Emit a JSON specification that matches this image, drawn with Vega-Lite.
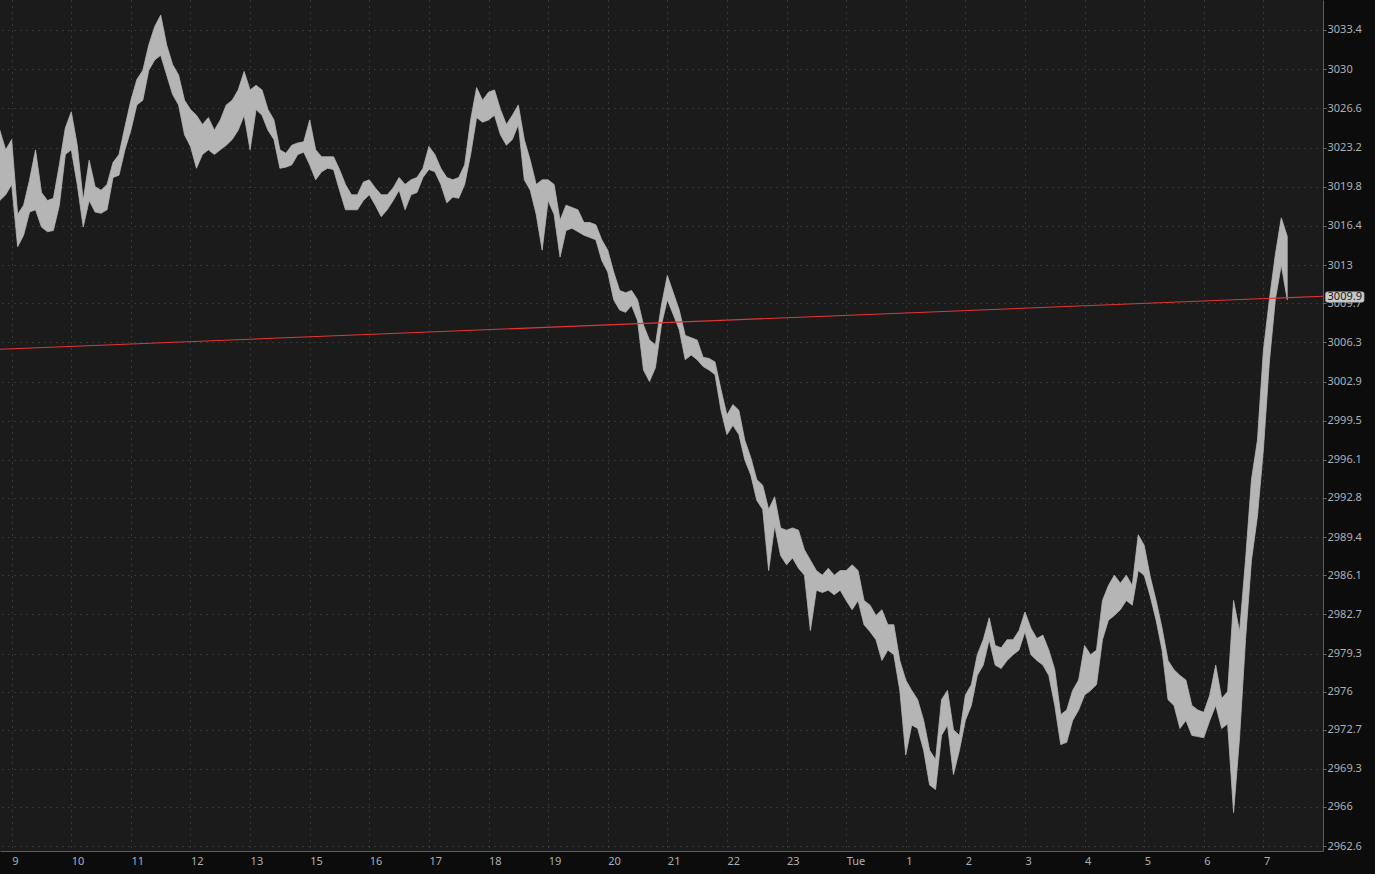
{
  "$schema": "https://vega.github.io/schema/vega-lite/v6.json",
  "description": "Intraday price chart, hourly axis, with trend line",
  "width": 1323,
  "height": 851,
  "autosize": {"type": "none"},
  "padding": {"left": 0, "top": 0, "right": 52, "bottom": 23},
  "background": "#0c0c0c",
  "datasets": {
    "bars": [
      {"t": -0.2, "hi": 3024.7, "lo": 3018.6},
      {"t": -0.1, "hi": 3023.0, "lo": 3019.1},
      {"t": 0.0, "hi": 3023.9, "lo": 3020.0},
      {"t": 0.1, "hi": 3017.4, "lo": 3014.6},
      {"t": 0.2, "hi": 3018.2, "lo": 3015.6},
      {"t": 0.3, "hi": 3020.4, "lo": 3017.6},
      {"t": 0.4, "hi": 3023.0, "lo": 3017.8},
      {"t": 0.5, "hi": 3019.3, "lo": 3016.3},
      {"t": 0.6, "hi": 3018.6, "lo": 3015.9},
      {"t": 0.7, "hi": 3018.8, "lo": 3016.0},
      {"t": 0.8, "hi": 3021.7, "lo": 3018.2},
      {"t": 0.9, "hi": 3024.9, "lo": 3022.6},
      {"t": 1.0, "hi": 3026.3, "lo": 3023.0},
      {"t": 1.1, "hi": 3023.4, "lo": 3020.0},
      {"t": 1.2, "hi": 3018.6, "lo": 3016.3},
      {"t": 1.3, "hi": 3022.1, "lo": 3018.6},
      {"t": 1.4, "hi": 3019.8, "lo": 3017.6},
      {"t": 1.5, "hi": 3019.5, "lo": 3017.5},
      {"t": 1.6, "hi": 3020.0, "lo": 3017.8},
      {"t": 1.7, "hi": 3021.9, "lo": 3020.6},
      {"t": 1.8, "hi": 3022.6, "lo": 3020.8},
      {"t": 1.9, "hi": 3025.0, "lo": 3023.0},
      {"t": 2.0, "hi": 3027.3, "lo": 3024.7},
      {"t": 2.1, "hi": 3029.1, "lo": 3026.9},
      {"t": 2.2, "hi": 3029.9, "lo": 3027.3},
      {"t": 2.3, "hi": 3032.1, "lo": 3029.9},
      {"t": 2.4, "hi": 3033.7, "lo": 3030.8},
      {"t": 2.5, "hi": 3034.7, "lo": 3031.2},
      {"t": 2.6, "hi": 3032.1, "lo": 3029.5},
      {"t": 2.7, "hi": 3030.4, "lo": 3027.8},
      {"t": 2.8, "hi": 3029.5, "lo": 3026.9},
      {"t": 2.9, "hi": 3027.3, "lo": 3024.3},
      {"t": 3.0, "hi": 3026.5, "lo": 3023.3},
      {"t": 3.1, "hi": 3026.0, "lo": 3021.4},
      {"t": 3.2, "hi": 3025.2, "lo": 3022.6},
      {"t": 3.3, "hi": 3025.8, "lo": 3023.0},
      {"t": 3.4, "hi": 3024.7, "lo": 3022.6},
      {"t": 3.5, "hi": 3025.6, "lo": 3023.0},
      {"t": 3.6, "hi": 3026.9, "lo": 3023.4},
      {"t": 3.7, "hi": 3027.3, "lo": 3023.9},
      {"t": 3.8, "hi": 3028.2, "lo": 3024.7},
      {"t": 3.9, "hi": 3029.8, "lo": 3026.0},
      {"t": 4.0, "hi": 3028.2, "lo": 3023.0},
      {"t": 4.1, "hi": 3028.6, "lo": 3026.5},
      {"t": 4.2, "hi": 3028.2, "lo": 3026.0},
      {"t": 4.3, "hi": 3026.5, "lo": 3024.7},
      {"t": 4.4, "hi": 3025.6, "lo": 3023.9},
      {"t": 4.5, "hi": 3023.0, "lo": 3021.4},
      {"t": 4.6, "hi": 3022.7, "lo": 3021.5},
      {"t": 4.7, "hi": 3023.4, "lo": 3021.7},
      {"t": 4.8, "hi": 3023.6, "lo": 3022.6},
      {"t": 4.9, "hi": 3023.7, "lo": 3022.8},
      {"t": 5.0, "hi": 3025.6, "lo": 3021.7},
      {"t": 5.1, "hi": 3023.0, "lo": 3020.4},
      {"t": 5.2, "hi": 3022.4, "lo": 3021.1},
      {"t": 5.3, "hi": 3022.4, "lo": 3021.4},
      {"t": 5.4, "hi": 3022.4, "lo": 3021.3},
      {"t": 5.5, "hi": 3021.3, "lo": 3019.5},
      {"t": 5.6, "hi": 3020.0, "lo": 3017.8},
      {"t": 5.7, "hi": 3019.1, "lo": 3017.8},
      {"t": 5.8, "hi": 3019.1, "lo": 3017.8},
      {"t": 5.9, "hi": 3020.2, "lo": 3018.6},
      {"t": 6.0, "hi": 3020.4, "lo": 3019.1},
      {"t": 6.1, "hi": 3019.7, "lo": 3018.2},
      {"t": 6.2, "hi": 3019.1, "lo": 3017.2},
      {"t": 6.3, "hi": 3019.1, "lo": 3017.8},
      {"t": 6.4, "hi": 3019.7, "lo": 3018.6},
      {"t": 6.5, "hi": 3020.6, "lo": 3019.5},
      {"t": 6.6, "hi": 3020.0, "lo": 3017.8},
      {"t": 6.7, "hi": 3020.4, "lo": 3019.1},
      {"t": 6.8, "hi": 3020.6, "lo": 3019.3},
      {"t": 6.9, "hi": 3021.4, "lo": 3020.6},
      {"t": 7.0, "hi": 3023.3, "lo": 3021.3},
      {"t": 7.1, "hi": 3022.6, "lo": 3021.1},
      {"t": 7.2, "hi": 3021.4, "lo": 3020.0},
      {"t": 7.3, "hi": 3020.6, "lo": 3018.4},
      {"t": 7.4, "hi": 3020.4, "lo": 3018.9},
      {"t": 7.5, "hi": 3020.6, "lo": 3018.8},
      {"t": 7.6, "hi": 3021.7, "lo": 3020.0},
      {"t": 7.7, "hi": 3025.6, "lo": 3022.6},
      {"t": 7.8, "hi": 3028.4, "lo": 3025.8},
      {"t": 7.9, "hi": 3027.3, "lo": 3025.4},
      {"t": 8.0, "hi": 3028.0, "lo": 3025.6},
      {"t": 8.1, "hi": 3028.2, "lo": 3026.0},
      {"t": 8.2, "hi": 3026.5, "lo": 3024.3},
      {"t": 8.3, "hi": 3025.2, "lo": 3023.4},
      {"t": 8.4, "hi": 3026.0, "lo": 3023.9},
      {"t": 8.5, "hi": 3026.9, "lo": 3025.2},
      {"t": 8.6, "hi": 3023.9, "lo": 3020.4},
      {"t": 8.7, "hi": 3022.1, "lo": 3019.5},
      {"t": 8.8, "hi": 3020.0, "lo": 3017.4},
      {"t": 8.9, "hi": 3020.4, "lo": 3014.3},
      {"t": 9.0, "hi": 3020.4, "lo": 3018.6},
      {"t": 9.1, "hi": 3020.0, "lo": 3017.4},
      {"t": 9.2, "hi": 3016.9, "lo": 3013.7},
      {"t": 9.3, "hi": 3018.2, "lo": 3016.0},
      {"t": 9.4, "hi": 3018.0, "lo": 3016.2},
      {"t": 9.5, "hi": 3017.8, "lo": 3015.9},
      {"t": 9.6, "hi": 3016.7, "lo": 3015.6},
      {"t": 9.7, "hi": 3016.7, "lo": 3015.4},
      {"t": 9.8, "hi": 3016.5, "lo": 3015.2},
      {"t": 9.9, "hi": 3015.2, "lo": 3013.4},
      {"t": 10.0, "hi": 3014.3, "lo": 3012.4},
      {"t": 10.1, "hi": 3012.4, "lo": 3010.0},
      {"t": 10.2, "hi": 3010.8, "lo": 3009.1},
      {"t": 10.3, "hi": 3010.6, "lo": 3008.9},
      {"t": 10.4, "hi": 3010.8, "lo": 3009.5},
      {"t": 10.5, "hi": 3010.0, "lo": 3008.2},
      {"t": 10.6, "hi": 3007.8, "lo": 3003.9},
      {"t": 10.7, "hi": 3006.5, "lo": 3002.9},
      {"t": 10.8, "hi": 3006.1, "lo": 3004.1},
      {"t": 10.9, "hi": 3009.5, "lo": 3007.8},
      {"t": 11.0, "hi": 3012.1, "lo": 3010.0},
      {"t": 11.1, "hi": 3010.6, "lo": 3008.7},
      {"t": 11.2, "hi": 3009.1, "lo": 3007.4},
      {"t": 11.3, "hi": 3006.9, "lo": 3004.8},
      {"t": 11.4, "hi": 3006.7, "lo": 3005.2},
      {"t": 11.5, "hi": 3006.5, "lo": 3004.8},
      {"t": 11.6, "hi": 3005.0, "lo": 3004.2},
      {"t": 11.7, "hi": 3004.9, "lo": 3003.9},
      {"t": 11.8, "hi": 3004.6, "lo": 3003.5},
      {"t": 11.9, "hi": 3002.2, "lo": 3000.4},
      {"t": 12.0, "hi": 3000.0, "lo": 2998.3},
      {"t": 12.1, "hi": 3000.9, "lo": 2999.1},
      {"t": 12.2, "hi": 3000.4, "lo": 2998.3},
      {"t": 12.3, "hi": 2997.8, "lo": 2996.1},
      {"t": 12.4, "hi": 2996.3, "lo": 2994.8},
      {"t": 12.5, "hi": 2994.4, "lo": 2992.6},
      {"t": 12.6, "hi": 2993.9, "lo": 2991.8},
      {"t": 12.7, "hi": 2991.8, "lo": 2986.5},
      {"t": 12.8, "hi": 2992.9, "lo": 2990.4},
      {"t": 12.9, "hi": 2990.2, "lo": 2987.8},
      {"t": 13.0, "hi": 2990.0, "lo": 2987.0},
      {"t": 13.1, "hi": 2990.2, "lo": 2987.6},
      {"t": 13.2, "hi": 2990.0, "lo": 2986.7},
      {"t": 13.3, "hi": 2988.3, "lo": 2986.1},
      {"t": 13.4, "hi": 2987.4, "lo": 2981.3},
      {"t": 13.5, "hi": 2986.5, "lo": 2984.8},
      {"t": 13.6, "hi": 2986.1, "lo": 2984.6},
      {"t": 13.7, "hi": 2986.7, "lo": 2984.8},
      {"t": 13.8, "hi": 2986.1, "lo": 2984.4},
      {"t": 13.9, "hi": 2986.5, "lo": 2984.8},
      {"t": 14.0, "hi": 2986.5, "lo": 2983.9},
      {"t": 14.1, "hi": 2987.0, "lo": 2983.1},
      {"t": 14.2, "hi": 2986.5, "lo": 2983.9},
      {"t": 14.3, "hi": 2983.9, "lo": 2981.8},
      {"t": 14.4, "hi": 2983.5, "lo": 2981.2},
      {"t": 14.5, "hi": 2982.6, "lo": 2980.5},
      {"t": 14.6, "hi": 2983.1, "lo": 2978.7},
      {"t": 14.7, "hi": 2981.8, "lo": 2979.6},
      {"t": 14.8, "hi": 2981.8, "lo": 2979.2},
      {"t": 14.9, "hi": 2978.7, "lo": 2976.1},
      {"t": 15.0, "hi": 2977.0, "lo": 2970.5},
      {"t": 15.1, "hi": 2976.1, "lo": 2973.1},
      {"t": 15.2, "hi": 2975.3, "lo": 2972.8},
      {"t": 15.3, "hi": 2973.5, "lo": 2970.9},
      {"t": 15.4, "hi": 2970.9, "lo": 2967.9},
      {"t": 15.5, "hi": 2970.1, "lo": 2967.5},
      {"t": 15.6, "hi": 2975.3, "lo": 2972.2},
      {"t": 15.7, "hi": 2976.1, "lo": 2973.1},
      {"t": 15.8, "hi": 2972.7, "lo": 2968.8},
      {"t": 15.9, "hi": 2972.2, "lo": 2970.9},
      {"t": 16.0, "hi": 2975.7, "lo": 2973.5},
      {"t": 16.1, "hi": 2976.6, "lo": 2974.8},
      {"t": 16.2, "hi": 2979.2, "lo": 2977.4},
      {"t": 16.3, "hi": 2980.5, "lo": 2978.3},
      {"t": 16.4, "hi": 2982.4, "lo": 2980.5},
      {"t": 16.5, "hi": 2980.0, "lo": 2978.3},
      {"t": 16.6, "hi": 2979.8, "lo": 2978.0},
      {"t": 16.7, "hi": 2980.5, "lo": 2978.7},
      {"t": 16.8, "hi": 2980.5, "lo": 2979.2},
      {"t": 16.9, "hi": 2981.3, "lo": 2979.6},
      {"t": 17.0, "hi": 2982.9, "lo": 2981.2},
      {"t": 17.1, "hi": 2981.5, "lo": 2979.2},
      {"t": 17.2, "hi": 2980.6, "lo": 2978.7},
      {"t": 17.3, "hi": 2980.9, "lo": 2978.3},
      {"t": 17.4, "hi": 2979.6, "lo": 2977.4},
      {"t": 17.5, "hi": 2977.9, "lo": 2974.8},
      {"t": 17.6, "hi": 2974.0, "lo": 2971.4},
      {"t": 17.7, "hi": 2974.4, "lo": 2971.6},
      {"t": 17.8, "hi": 2976.1, "lo": 2973.5},
      {"t": 17.9, "hi": 2977.0, "lo": 2974.4},
      {"t": 18.0, "hi": 2980.0, "lo": 2975.7},
      {"t": 18.1, "hi": 2979.2, "lo": 2976.1},
      {"t": 18.2, "hi": 2979.6, "lo": 2976.6},
      {"t": 18.3, "hi": 2983.9, "lo": 2980.5},
      {"t": 18.4, "hi": 2985.2, "lo": 2982.2},
      {"t": 18.5, "hi": 2986.1, "lo": 2982.6},
      {"t": 18.6, "hi": 2985.4, "lo": 2983.1},
      {"t": 18.7, "hi": 2986.1, "lo": 2983.9},
      {"t": 18.8, "hi": 2985.2, "lo": 2983.5},
      {"t": 18.9, "hi": 2989.6, "lo": 2986.5},
      {"t": 19.0, "hi": 2988.7, "lo": 2986.1},
      {"t": 19.1, "hi": 2986.0, "lo": 2984.3},
      {"t": 19.2, "hi": 2983.9, "lo": 2982.2},
      {"t": 19.3, "hi": 2981.5, "lo": 2979.6},
      {"t": 19.4, "hi": 2978.7, "lo": 2975.3},
      {"t": 19.5, "hi": 2977.9, "lo": 2974.8},
      {"t": 19.6, "hi": 2977.4, "lo": 2972.8},
      {"t": 19.7, "hi": 2977.0, "lo": 2973.5},
      {"t": 19.8, "hi": 2974.8, "lo": 2972.2},
      {"t": 19.9, "hi": 2974.4, "lo": 2972.1},
      {"t": 20.0, "hi": 2974.2, "lo": 2972.0},
      {"t": 20.1, "hi": 2975.7, "lo": 2973.5},
      {"t": 20.2, "hi": 2978.3, "lo": 2974.8},
      {"t": 20.3, "hi": 2975.4, "lo": 2972.8},
      {"t": 20.4, "hi": 2976.0, "lo": 2973.2},
      {"t": 20.5, "hi": 2983.9, "lo": 2965.5},
      {"t": 20.6, "hi": 2981.2, "lo": 2972.0},
      {"t": 20.7, "hi": 2987.4, "lo": 2980.5},
      {"t": 20.8, "hi": 2994.4, "lo": 2987.4},
      {"t": 20.9, "hi": 2997.8, "lo": 2991.2},
      {"t": 21.0, "hi": 3005.6, "lo": 2997.0},
      {"t": 21.1, "hi": 3010.0, "lo": 3004.6},
      {"t": 21.2, "hi": 3013.9, "lo": 3010.0},
      {"t": 21.3, "hi": 3017.1, "lo": 3013.0},
      {"t": 21.4, "hi": 3015.5, "lo": 3010.0}
    ],
    "trend": [
      {"t": -0.2, "p": 3005.7},
      {"t": 22.0, "p": 3010.3}
    ],
    "last": [
      {"price": 3009.9, "label": "3009.9"}
    ]
  },
  "layer": [
    {
      "data": {"name": "bars"},
      "mark": {"type": "area", "color": "#b5b5b5", "stroke": "#b5b5b5", "strokeWidth": 0.8, "opacity": 1},
      "encoding": {
        "x": {
          "field": "t",
          "type": "quantitative",
          "scale": {"domain": [-0.196, 22.0], "nice": false, "zero": false},
          "axis": {
            "orient": "bottom",
            "title": null,
            "values": [0, 1, 2, 3, 4, 5, 6, 7, 8, 9, 10, 11, 12, 13, 14, 15, 16, 17, 18, 19, 20, 21],
            "labelExpr": "['9','10','11','12','13','15','16','17','18','19','20','21','22','23','Tue','1','2','3','4','5','6','7'][datum.value]",
            "labelAlign": "left",
            "labelPadding": 4,
            "labelFlush": false,
            "labelOverlap": false,
            "ticks": false,
            "grid": true
          }
        },
        "y": {
          "field": "hi",
          "type": "quantitative",
          "scale": {"domain": [2962.17, 3036.0], "nice": false, "zero": false},
          "axis": {
            "orient": "right",
            "title": null,
            "values": [3033.4, 3030, 3026.6, 3023.2, 3019.8, 3016.4, 3013, 3009.7, 3006.3, 3002.9, 2999.5, 2996.1, 2992.8, 2989.4, 2986.1, 2982.7, 2979.3, 2976, 2972.7, 2969.3, 2966, 2962.6],
            "format": ".1~f",
            "labelPadding": 1,
            "labelFlush": false,
            "labelOverlap": false,
            "tickSize": 3,
            "grid": true
          }
        },
        "y2": {"field": "lo"}
      }
    },
    {
      "data": {"name": "trend"},
      "mark": {"type": "line", "color": "#e23636", "strokeWidth": 1.1},
      "encoding": {
        "x": {"field": "t", "type": "quantitative", "scale": {"domain": [-0.196, 22.0], "nice": false, "zero": false}, "axis": {"title": null}},
        "y": {"field": "p", "type": "quantitative", "scale": {"domain": [2962.17, 3036.0], "nice": false, "zero": false}, "axis": {"title": null}}
      }
    },
    {
      "data": {"name": "last"},
      "mark": {"type": "rect", "color": "#c9c9c9", "cornerRadius": 2, "stroke": "#9a9a9a", "strokeWidth": 0.5},
      "encoding": {
        "x": {"datum": 22.04, "type": "quantitative", "scale": {"domain": [-0.196, 22.0], "nice": false, "zero": false}, "axis": {"title": null}},
        "x2": {"datum": 22.69},
        "y": {"datum": 3010.69, "type": "quantitative", "scale": {"domain": [2962.17, 3036.0], "nice": false, "zero": false}, "axis": {"title": null}},
        "y2": {"datum": 3009.77}
      }
    },
    {
      "data": {"name": "last"},
      "mark": {"type": "text", "color": "#1a1a1a", "font": "Noto Sans", "fontSize": 11, "align": "center", "baseline": "middle"},
      "encoding": {
        "x": {"datum": 22.365, "type": "quantitative", "scale": {"domain": [-0.196, 22.0], "nice": false, "zero": false}, "axis": {"title": null}},
        "y": {"datum": 3010.23, "type": "quantitative", "scale": {"domain": [2962.17, 3036.0], "nice": false, "zero": false}, "axis": {"title": null}},
        "text": {"field": "label"}
      }
    }
  ],
  "config": {
    "view": {"fill": "#1b1b1b", "stroke": null},
    "axis": {
      "labelFont": "Noto Sans",
      "labelFontSize": 11,
      "labelColor": "#aab0b6",
      "domainColor": "#5c5c5c",
      "domainWidth": 1,
      "tickColor": "#6a6a6a",
      "gridColor": "#525252",
      "gridDash": [1, 5],
      "gridWidth": 1,
      "gridOpacity": 1
    }
  }
}
